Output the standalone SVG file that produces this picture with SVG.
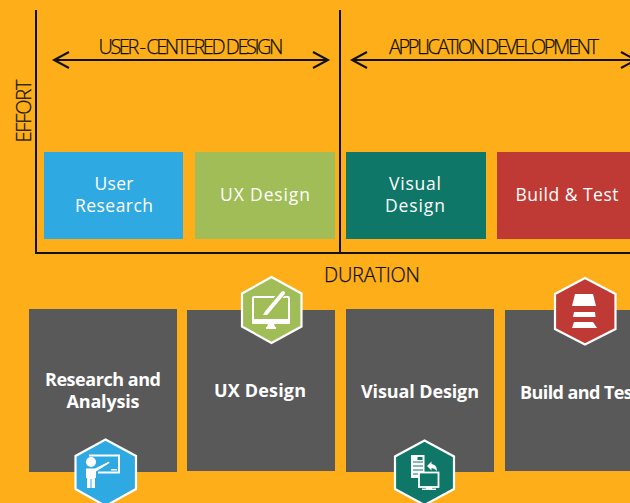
<svg xmlns="http://www.w3.org/2000/svg" width="630" height="503" viewBox="0 0 630 503">
<style>
text{font-family:"Open Sans","Noto Sans","Liberation Sans",sans-serif}
.ax{stroke:#111;stroke-width:2;fill:none}
.arr{stroke:#111;stroke-width:2;fill:none}
.lab{font-size:20px;font-weight:300;fill:#111;text-anchor:middle;stroke:#111;stroke-width:.25}
.ph{font-size:17.500px;fill:#fff;text-anchor:middle}
.ph2{font-size:18px;fill:#fff;text-anchor:middle;font-weight:700}
.card{fill:#595959}
.hex{stroke:#fff;stroke-width:2.200;stroke-linejoin:miter}
.ic{fill:#fff;stroke:none}
.il{fill:none;stroke:#fff;stroke-width:2}
</style>
<rect width="630" height="503" fill="#fdae18"/>
<g id="connectors">
<path class="ax" d="M36 10V253H630M340 10V253"/>
<path class="arr" d="M54 60H328M69 52L54 60L69 68M313 52L328 60L313 68"/>
<path class="arr" d="M352 60H632M367 52L352 60L367 68M621 52L636 60L621 68"/>
</g>
<g id="label-ucd"><text class="lab" x="191" y="54" textLength="185">USER - CENTERED DESIGN</text></g>
<g id="label-app"><text class="lab" x="494" y="54" textLength="210">APPLICATION DEVELOPMENT</text></g>
<g id="label-effort"><text class="lab" transform="translate(31,111) rotate(-90)" x="0" y="0" textLength="63">EFFORT</text></g>
<g id="label-duration"><text class="lab" x="372" y="282" textLength="96">DURATION</text></g>
<g id="phase-research"><rect x="44" y="152" width="139" height="87" fill="#2fa9e1"/><text class="ph" x="114" y="190" textLength="39">User</text><text class="ph" x="114" y="212" textLength="78">Research</text></g>
<g id="phase-ux"><rect x="195" y="152" width="140" height="87" fill="#a0bd58"/><text class="ph" x="265" y="201" textLength="90">UX Design</text></g>
<g id="phase-visual"><rect x="346" y="152" width="140" height="87" fill="#0e7767"/><text class="ph" x="415" y="190" textLength="52">Visual</text><text class="ph" x="415" y="212" textLength="60">Design</text></g>
<g id="phase-build"><rect x="497" y="152" width="133" height="87" fill="#bf3a34"/><text class="ph" x="567" y="201" textLength="103">Build &amp; Test</text></g>
<g id="card-research"><rect class="card" x="29" y="309" width="148" height="163"/><text class="ph2" x="103" y="386" textLength="116">Research and</text><text class="ph2" x="103" y="408" textLength="73">Analysis</text></g>
<g id="card-ux"><rect class="card" x="187" y="310" width="148" height="161"/><text class="ph2" x="260" y="397" textLength="92">UX Design</text></g>
<g id="card-visual"><rect class="card" x="346" y="309" width="148" height="163"/><text class="ph2" x="420" y="398" textLength="118">Visual Design</text></g>
<g id="card-build"><rect class="card" x="505" y="310" width="125" height="161"/><text class="ph2" x="520" y="399" style="text-anchor:start" textLength="120">Build and Test</text></g>
<g id="icon-ux">
<polygon class="hex" fill="#a0bd58" points="271.500,277 301.500,293.500 301.500,326.500 271.500,343 242,326.500 242,293.500"/>
<rect class="il" x="253" y="297" width="36" height="25" rx="1"/>
<path class="ic" d="M252 319H290V323Q290 324 289 324H253Q252 324 252 323ZM268 324H274L275 327H267ZM266 327H276V329H266Z"/>
<path d="M265 314L283 292" stroke="#a0bd58" stroke-width="7" fill="none"/>
<path d="M268 311L283 293" stroke="#fff" stroke-width="4" stroke-linecap="round" fill="none"/>
<path class="ic" d="M263 315L266 310L269 313L267 315Z"/>
</g>
<g id="icon-build">
<polygon class="hex" fill="#bf3a34" points="585,278 615.500,294 615.500,329 585,344.500 555,329 555,294"/>
<path class="ic" d="M575 294H593L596 306H572ZM574 312H595L595.500 317H573ZM574 322H593L597 328H572Z"/>
</g>
<g id="icon-research">
<polygon class="hex" fill="#2fa9e1" points="105.500,439.500 136,456 136,489 105.500,506 75.500,489 75.500,456"/>
<path class="il" d="M89 455.500H119V472.500H98" stroke-width="1.500"/>
<circle class="ic" cx="91" cy="462" r="5"/>
<path class="ic" d="M86 468.500H95L109 461.500L109.500 463L96 471.500V478H95V488H91.500V479H90.500V488H87V478H86Z"/>
<rect class="ic" x="111" y="469" width="6" height="1.500"/>
</g>
<g id="icon-visual">
<polygon class="hex" fill="#0e7767" points="424.500,440.500 454,456.500 454,489 424.500,505 395,489 395,456.500"/>
<rect class="ic" x="411" y="455" width="13.500" height="23"/>
<path d="M413 462H423M413 466H423M413 470H423M413 474H423" stroke="#0e7767" stroke-width="1.200"/>
<rect x="417.500" y="457" width="5" height="3" fill="#0e7767"/>
<path class="ic" d="M427 466L431.500 461.500V464Q437 464.500 437 471Q434 468 431.500 468V470.500Z"/>
<rect x="419" y="472.500" width="19.500" height="14.500" fill="#0e7767" stroke="#fff" stroke-width="1.800"/>
<path class="ic" d="M426 487H432V488.500H436V490H422V488.500H426Z"/>
</g>
</svg>
